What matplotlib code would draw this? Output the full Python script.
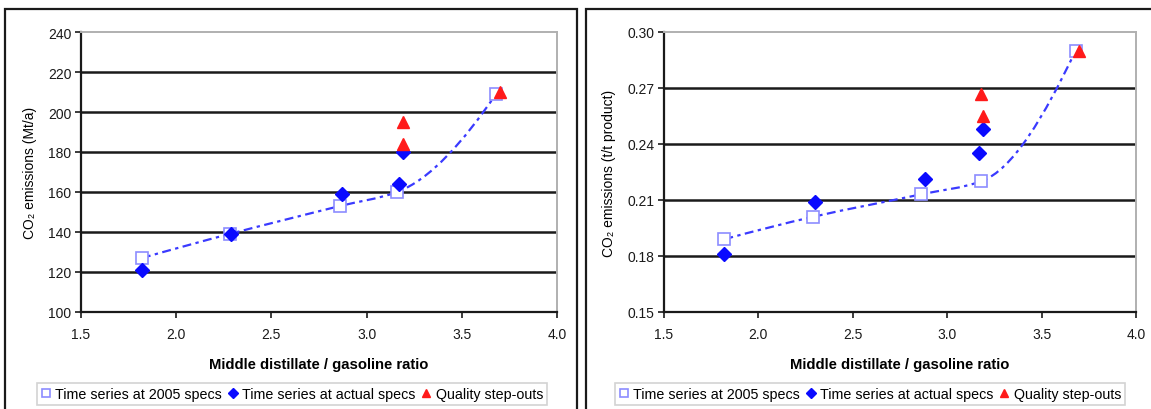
import matplotlib
matplotlib.use("Agg")
import matplotlib.pyplot as plt
from matplotlib.path import Path
from matplotlib.patches import PathPatch, Rectangle
import numpy as np

plt.rcParams['font.family'] = ['Liberation Sans', 'DejaVu Sans']

# data
ratio_2005 = [1.82, 2.28, 2.86, 3.16, 3.68]
mt_2005 = [127, 139, 153, 160, 209]
ratio_actual = [1.82, 2.29, 2.87, 3.17, 3.19]
mt_actual = [121, 139, 159, 164, 180]
ratio_step = [3.19, 3.19, 3.70]
mt_step = [184, 195, 210]

r_ratio_2005 = [1.82, 2.29, 2.86, 3.18, 3.68]
tt_2005 = [0.189, 0.201, 0.213, 0.220, 0.290]
r_ratio_actual = [1.82, 2.30, 2.88, 3.17, 3.19]
tt_actual = [0.181, 0.209, 0.221, 0.235, 0.248]
r_ratio_step = [3.18, 3.19, 3.70]
tt_step = [0.267, 0.255, 0.290]

x_ticks = [1.5, 2.0, 2.5, 3.0, 3.5, 4.0]
left_yticks = [100, 120, 140, 160, 180, 200, 220, 240]
right_yticks = [0.15, 0.18, 0.21, 0.24, 0.27, 0.30]

labels = ['Time series at 2005 specs', 'Time series at actual specs', 'Quality step-outs']

W, H = 1151, 410
fig = plt.figure(figsize=(W / 100, H / 100), dpi=100)


def px(x0, y0, x1, y1):
    # pixel box (top-left origin) -> figure fraction
    return [x0 / W, 1 - y1 / H, (x1 - x0) / W, (y1 - y0) / H]


def smooth_path(xs, ys):
    # smoothed line through the points, monotone cubic drawn as bezier segments
    x = np.asarray(xs, float)
    y = np.asarray(ys, float)
    h = np.diff(x)
    d = np.diff(y) / h
    n = len(x)
    m = np.zeros(n)
    for i in range(1, n - 1):
        if d[i - 1] * d[i] > 0:
            w1 = 2 * h[i] + h[i - 1]
            w2 = h[i] + 2 * h[i - 1]
            m[i] = (w1 + w2) / (w1 / d[i - 1] + w2 / d[i])
    m[0] = ((2 * h[0] + h[1]) * d[0] - h[0] * d[1]) / (h[0] + h[1])
    m[-1] = ((2 * h[-1] + h[-2]) * d[-1] - h[-1] * d[-2]) / (h[-1] + h[-2])
    verts = [(x[0], y[0])]
    codes = [Path.MOVETO]
    for i in range(n - 1):
        verts += [(x[i] + h[i] / 3, y[i] + m[i] * h[i] / 3),
                  (x[i + 1] - h[i] / 3, y[i + 1] - m[i + 1] * h[i] / 3),
                  (x[i + 1], y[i + 1])]
        codes += [Path.CURVE4] * 3
    return Path(verts, codes)


def draw_panel(rect, xs1, ys1, xs2, ys2, xs3, ys3, yticks, ylabel, yfmt, leg_center):
    ax = fig.add_axes(rect)
    ax.set_xlim(1.5, 4.0)
    ax.set_ylim(yticks[0], yticks[-1])
    for v in yticks[1:-1]:
        ax.axhline(v, color='#1a1a1a', lw=1.8, zorder=1)
    patch = PathPatch(smooth_path(xs1, ys1), fill=False, edgecolor='#3a3aff',
                      lw=1.6, linestyle=(0, (4, 2, 1.5, 2)), zorder=2)
    ax.add_patch(patch)
    h1, = ax.plot(xs1, ys1, 's', ms=8, mfc='white', mec='#8c8cff', mew=1.2, zorder=3)
    h2, = ax.plot(xs2, ys2, 'D', ms=7, color='#0a0aff', zorder=4)
    h3, = ax.plot(xs3, ys3, '^', ms=8, color='#ff1a1a', zorder=5)
    ax.set_xticks(x_ticks)
    ax.set_xticklabels(['%.1f' % v for v in x_ticks])
    ax.set_yticks(yticks)
    ax.set_yticklabels([yfmt % v for v in yticks])
    ax.tick_params(direction='out', length=4, width=1.2, labelsize=10, colors='#1a1a1a')
    ax.tick_params(axis='x', pad=7)
    ax.tick_params(axis='y', pad=3)
    for s in ['left', 'bottom']:
        ax.spines[s].set_color('#1a1a1a')
        ax.spines[s].set_linewidth(1.6)
    for s in ['top', 'right']:
        ax.spines[s].set_color('#b0b0b0')
        ax.spines[s].set_linewidth(1.4)
    ax.set_xlabel('Middle distillate / gasoline ratio', fontsize=10.7, fontweight='bold', labelpad=11)
    ax.set_ylabel(ylabel, fontsize=10, labelpad=8)
    leg = fig.legend([h1, h2, h3], labels, loc='center', bbox_to_anchor=leg_center,
                     ncol=3, fontsize=10.3, frameon=True, fancybox=False, markerscale=0.72,
                     handlelength=0.7, handletextpad=0.3, columnspacing=0.4,
                     borderpad=0.3, edgecolor='#c8c8c8')
    leg.get_frame().set_linewidth(1.2)
    return ax


# panel frames (right and bottom edges of the second one run off the picture)
fig.patches.append(Rectangle((5 / W, -5 / H), 572 / W, 405 / H, transform=fig.transFigure,
                             fill=False, edgecolor='#1a1a1a', lw=1.6))
fig.patches.append(Rectangle((586 / W, -5 / H), 580 / W, 405 / H, transform=fig.transFigure,
                             fill=False, edgecolor='#1a1a1a', lw=1.6))

draw_panel(px(81, 33, 557, 313), ratio_2005, mt_2005, ratio_actual, mt_actual,
           ratio_step, mt_step, left_yticks, 'CO₂ emissions (Mt/a)', '%d',
           (292 / W, 15 / H))
draw_panel(px(664, 33, 1136, 313), r_ratio_2005, tt_2005, r_ratio_actual, tt_actual,
           r_ratio_step, tt_step, right_yticks, 'CO₂ emissions (t/t product)', '%.2f',
           (870 / W, 15 / H))

fig.savefig('out.png', dpi=100)
